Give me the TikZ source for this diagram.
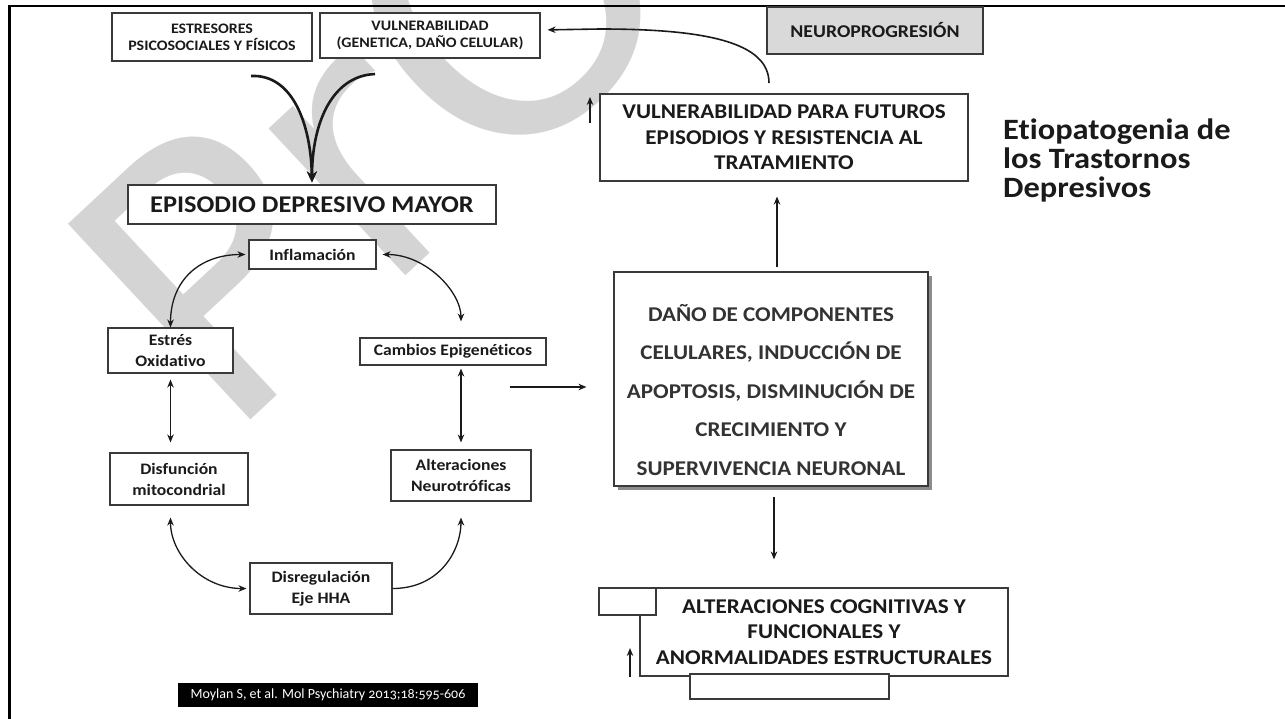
\documentclass[tikz,border=0pt]{standalone}
\usepackage{fontspec}
\setmainfont{Carlito}[FakeStretch=1.1, Ligatures=NoCommon]
\newfontfamily\reffont{Carlito}[Numbers=OldStyle, Ligatures=NoCommon]
\newfontfamily\wmfont{DejaVu Sans}
\usetikzlibrary{arrows.meta}
\definecolor{ink}{HTML}{1A1A1A}
\definecolor{boxline}{HTML}{3A3A3A}
\definecolor{darktext}{HTML}{333333}
\definecolor{neurofill}{HTML}{D9D9D9}
\definecolor{shadowc}{HTML}{8C8C8C}
\definecolor{wmark}{HTML}{D4D4D4}
\newcommand\fsz[2]{\fontsize{#1}{#2}\selectfont}
\begin{document}
\begin{tikzpicture}[x=1pt,y=-1pt,
  box/.style={draw=boxline, line width=1.1pt, fill=white, inner sep=0pt, align=center, text=ink},
  caps/.style={font=\bfseries\fsz{14.5}{17}},
  small/.style={font=\bfseries\fsz{16}{21}},
  big/.style={font=\bfseries\fsz{21}{25.5}},
  arr/.style={draw=ink, line width=1.3pt, -{Stealth[length=8pt,width=6.5pt]}},
  biarr/.style={draw=ink, line width=1.3pt, {Stealth[length=8pt,width=6.5pt]}-{Stealth[length=8pt,width=6.5pt]}},
  thickarr/.style={draw=ink, line width=2.6pt, -{Stealth[length=11pt,width=10pt]}},
]
\useasboundingbox (0,0) rectangle (1285,719);
\fill[white] (0,0) rectangle (1285,719);

% faint background lettering
\begin{scope}
\clip (0,0) rectangle (1285,719);
\node[rotate=43, anchor=base west, inner sep=0pt, text=wmark, font=\wmfont\fsz{367}{367}] (wm) at (224,445) {PrO};
\end{scope}

% slide frame: top rule and left rule
\draw[line width=2.5pt] (8,6) -- (1285,6);
\draw[line width=3pt] (9,5) -- (9,719);

% --- upper left: causes and major depressive episode
\node[box, caps, minimum width=200pt, minimum height=48pt] (estr) at (212,37) {ESTRESORES\\PSICOSOCIALES Y FÍSICOS};
\node[box, caps, minimum width=220pt, minimum height=45pt] (vuln) at (430,35.5) {VULNERABILIDAD\\(GENETICA, DAÑO CELULAR)};
\node[box, font=\bfseries\fsz{24}{28}, minimum width=368pt, minimum height=39pt] (epi) at (312,204.5) {EPISODIO DEPRESIVO MAYOR};

\coordinate (srcL) at (251,76);
\coordinate (srcR) at (375,74);
\draw[thickarr, shorten >=2pt] (srcL) .. controls (293,74) and (311,125) .. (epi.north);
\draw[thickarr, shorten >=2pt] (srcR) .. controls (331,76) and (312,125) .. (epi.north);

% --- top right
\node[box, fill=neurofill, font=\bfseries\fsz{18}{21}, minimum width=216pt, minimum height=47pt] (neuro) at (875,30.5) {NEUROPROGRESIÓN};
\node[box, big, minimum width=368pt, minimum height=87pt] (fut) at (784,137.5) {VULNERABILIDAD PARA FUTUROS\\EPISODIOS Y RESISTENCIA AL\\TRATAMIENTO};
\coordinate (neuroStart) at (769,83);
\draw[arr, line width=1.6pt, shorten >=7pt] (neuroStart) .. controls (769,42) and (705,29) .. (600,29) -- ([yshift=5.5pt]vuln.east);
\coordinate (upA0) at (590,123);
\coordinate (upA1) at (590,97);
\draw[arr, line width=1.5pt] (upA0) -- (upA1);

\node[anchor=north west, align=left, inner sep=0pt, text=ink, font=\bfseries\fsz{29.5}{29}] (title) at (1003,119) {Etiopatogenia de\\los Trastornos\\Depresivos};

% --- cycle of mechanisms
\node[box, small, minimum width=127pt, minimum height=29pt] (infl) at (312.5,254.5) {Inflamación};
\node[box, small, minimum width=125pt, minimum height=45pt] (estres) at (170.5,350.5) {Estrés\\Oxidativo};
\node[box, small, minimum width=186pt, minimum height=27pt] (camb) at (453,351.5) {Cambios Epigenéticos};
\node[box, small, minimum width=138pt, minimum height=52pt] (disf) at (179,479) {Disfunción\\mitocondrial};
\node[box, small, minimum width=140pt, minimum height=51pt] (alt) at (461,475.5) {Alteraciones\\Neurotróficas};
\node[box, small, minimum width=142pt, minimum height=51pt] (disr) at (321,588.5) {Disregulación\\Eje HHA};

\draw[biarr, shorten >=3pt] (estres.north) .. controls +(0,-48) and +(-48,0) .. (infl.west);
\draw[biarr, shorten >=16pt, shorten <=6pt] (infl.east) .. controls +(50,0) and +(0,-45) .. ([xshift=8pt]camb.north);
\draw[biarr, shorten <=6pt, shorten >=10pt] (estres.south) -- (estres.south |- disf.north);
\draw[biarr, shorten <=3pt, shorten >=7pt] (alt.north |- camb.south) -- (alt.north);
\draw[biarr, shorten <=12pt, shorten >=3pt] (estres.south |- disf.south) .. controls +(0,48) and +(-48,0) .. (disr.west);
\draw[arr, shorten >=16pt] (disr.east) .. controls +(48,0) and +(0,48) .. (alt.south);

% --- cellular damage and its consequences
\fill[shadowc] (618,276) rectangle (932,490);
\node[box, minimum width=314pt, minimum height=214pt] (dano) at (771,379) {};
\node[inner sep=0pt, align=center, text=darktext, font=\bfseries\fsz{21}{38.5}] (danotxt) at (771,390) {DAÑO DE COMPONENTES\\CELULARES, INDUCCIÓN DE\\APOPTOSIS, DISMINUCIÓN DE\\CRECIMIENTO Y\\SUPERVIVENCIA NEURONAL};

\coordinate (hStart) at (510,387);
\draw[arr, line width=2pt, shorten >=27pt] (hStart) -- ([yshift=-8pt]dano.west);
\draw[arr, shorten >=15pt, shorten <=4pt] ([xshift=6pt]dano.north) -- ([xshift=6pt]dano.north |- fut.south);

\node[box, big, minimum width=368pt, minimum height=88pt] (alt2) at (824,632) {ALTERACIONES COGNITIVAS Y\\FUNCIONALES Y\\ANORMALIDADES ESTRUCTURALES};
\node[box, minimum width=57pt, minimum height=27pt] (blankA) at (627.5,601.5) {};
\node[box, minimum width=199pt, minimum height=25pt] (blankB) at (789.5,686.5) {};
\draw[arr, shorten <=10pt, shorten >=28pt] ([xshift=3pt]dano.south) -- ([xshift=3pt]dano.south |- alt2.north);
\coordinate (upB0) at (630,677);
\coordinate (upB1) at (630,648);
\draw[arr, line width=1.5pt] (upB0) -- (upB1);

% --- reference
\node[fill=black, text=white, inner sep=0pt, minimum width=300pt, minimum height=24pt, font=\reffont\fsz{14}{16}] (ref) at (328,695) {Moylan S, et al. Mol Psychiatry 2013;18:595-606};
\end{tikzpicture}
\end{document}
